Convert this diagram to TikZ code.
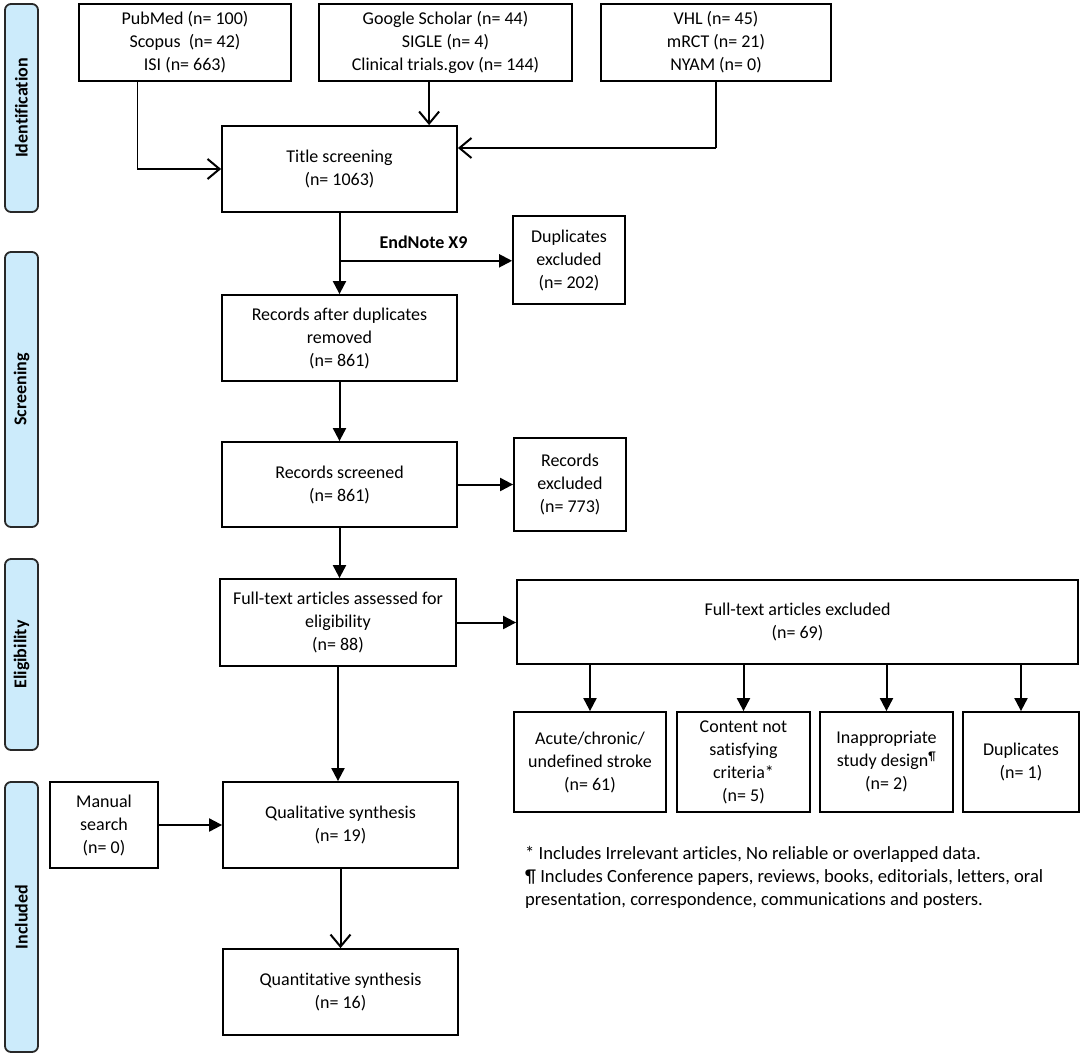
\documentclass[tikz,border=0pt]{standalone}
\usepackage{fontspec}
\setmainfont{Carlito}[Ligatures=NoCommon]
\usetikzlibrary{arrows.meta,calc}
\definecolor{sidefill}{RGB}{204,235,251}
\definecolor{sideline}{RGB}{40,40,40}
\begin{document}
\begin{tikzpicture}[x=1pt,y=-1pt,
  box/.style={draw=black,line width=1.8pt,rectangle,align=center,inner sep=2pt,
    font=\fontsize{18}{23}\selectfont},
  side/.style={draw=sideline,fill=sidefill,line width=1.8pt,rounded corners=6pt,
    rotate=90,minimum height=33pt,font=\bfseries\fontsize{18}{22}\selectfont},
  arr/.style={line width=2pt,-{Triangle[length=13pt,width=13pt]}},
  oarr/.style={line width=2pt,-{Straight Barb[length=12pt,width=20pt,line width=2pt]}},
  thinline/.style={line width=1.2pt},
  thinoarr/.style={line width=1.2pt,-{Straight Barb[length=12pt,width=20pt,line width=2pt]}}
]
\useasboundingbox (0,0) rectangle (1084,1057);

% phase labels
\node[side,minimum width=208pt] (sid) at (21.5,108) {Identification};
\node[side,minimum width=275pt] (sscr) at (21.5,389.5) {Screening};
\node[side,minimum width=191pt] (self) at (21.5,654.5) {Eligibility};
\node[side,minimum width=270pt] (sinc) at (21.5,917) {Included};

% top sources
\node[box,minimum width=212pt,minimum height=77pt] (pub) at (185,42.5)
  {PubMed (n= 100)\\Scopus\ \ (n= 42)\\ISI (n= 663)};
\node[box,minimum width=253pt,minimum height=77pt] (goo) at (445.5,42.5)
  {Google Scholar (n= 44)\\SIGLE (n= 4)\\Clinical trials.gov (n= 144)};
\node[box,minimum width=230pt,minimum height=77pt] (vhl) at (716,42.5)
  {VHL (n= 45)\\mRCT (n= 21)\\NYAM (n= 0)};

\node[box,minimum width=235pt,minimum height=86pt] (title) at (339.5,169)
  {Title screening\\(n= 1063)};
\node[box,minimum width=112pt,minimum height=88pt] (dup) at (569,260)
  {Duplicates\\excluded\\(n= 202)};
\node[box,minimum width=235pt,minimum height=86pt] (recdup) at (339.5,338)
  {Records after duplicates\\removed\\(n= 861)};
\node[box,minimum width=235pt,minimum height=85pt] (recscr) at (339.5,484.5)
  {Records screened\\(n= 861)};
\node[box,minimum width=112pt,minimum height=93pt] (recexcl) at (570,484.5)
  {Records\\excluded\\(n= 773)};
\node[box,minimum width=236pt,minimum height=87pt] (fta) at (338,622.5)
  {Full-text articles assessed for\\eligibility\\(n= 88)};
\node[box,minimum width=561pt,minimum height=84pt] (fte) at (797.5,622)
  {Full-text articles excluded\\(n= 69)};
\node[box,minimum width=152pt,minimum height=100pt] (acute) at (590,762)
  {Acute/chronic/\\undefined stroke\\(n= 61)};
\node[box,minimum width=133pt,minimum height=100pt] (content) at (743.5,762)
  {Content not\\satisfying\\criteria*\\(n= 5)};
\node[box,minimum width=133pt,minimum height=100pt] (inapp) at (886.5,762)
  {Inappropriate\\study design\textsuperscript{¶}\\(n= 2)};
\node[box,minimum width=116pt,minimum height=100pt] (dups) at (1021,762)
  {Duplicates\\(n= 1)};
\node[box,minimum width=108pt,minimum height=86pt] (manual) at (104,825)
  {Manual\\search\\(n= 0)};
\node[box,minimum width=235pt,minimum height=86pt] (qual) at (340.5,825)
  {Qualitative synthesis\\(n= 19)};
\node[box,minimum width=235pt,minimum height=86pt] (quant) at (340.5,992)
  {Quantitative synthesis\\(n= 16)};

\node[anchor=north west,align=left,inner sep=0pt,font=\fontsize{18.6}{23}\selectfont] (notes) at (525,846)
  {* Includes Irrelevant articles, No reliable or overlapped data.\\
   ¶ Includes Conference papers, reviews, books, editorials, letters, oral\\
   presentation, correspondence, communications and posters.};

% connectors
\coordinate (p1) at ([xshift=59pt]pub.south west);
\draw[thinoarr] (p1) |- (title.west);
\coordinate (g1) at ([xshift=111pt]goo.south west);
\draw[oarr] (g1) -- (g1 |- title.north);
\coordinate (v2) at ([yshift=21pt]title.east);
\coordinate (v1) at (vhl.south |- v2);
\draw[thinline] (vhl.south) -- (v1);
\draw[oarr] (v1) -- (v2);

\draw[arr] (title.south) -- (recdup.north);
\coordinate (br) at ($(title.south)!0.59!(recdup.north)$);
\draw[arr] (br) -- (br -| dup.west);
\node[font=\bfseries\fontsize{18}{22}\selectfont,anchor=south] (endnote) at ($(br)+(84,-9)$) {EndNote X9};

\draw[arr] (recdup.south) -- (recscr.north);
\draw[arr] (recscr.east) -- (recexcl.west);
\draw[arr] (recscr.south) -- (recscr.south |- fta.north);
\draw[arr] (fta.east) -- (fta.east -| fte.west);
\foreach \b in {acute,content,inapp,dups}
  \draw[arr] (fte.south -| \b.north) -- (\b.north);
\draw[arr] (fta.south) -- (fta.south |- qual.north);
\draw[arr] (manual.east) -- (manual.east -| qual.west);
\draw[oarr] (qual.south) -- (quant.north);
\end{tikzpicture}
\end{document}
